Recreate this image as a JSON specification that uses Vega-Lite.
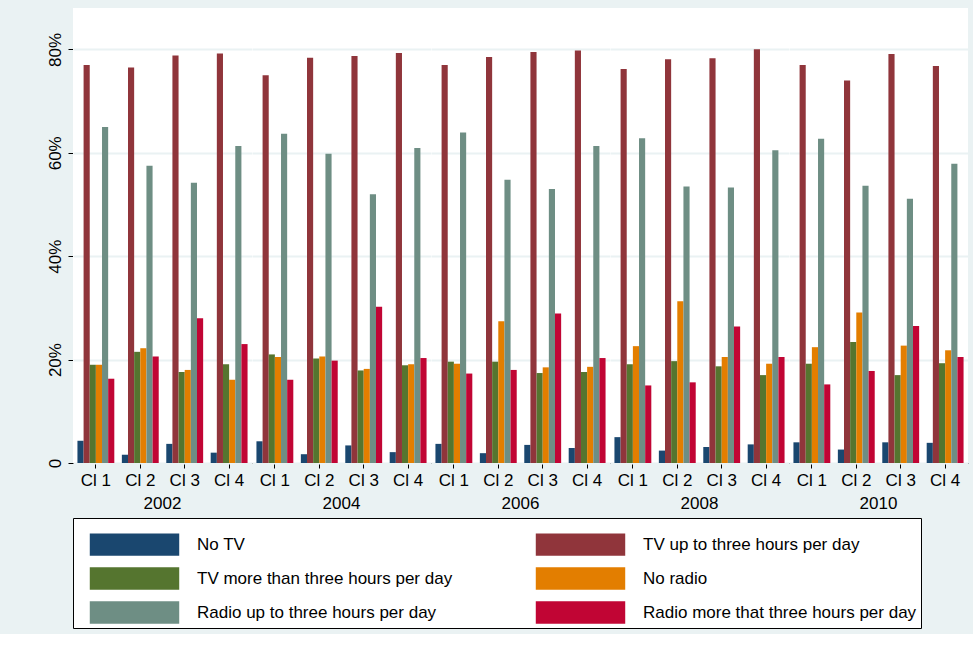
{
  "$schema": "https://vega.github.io/schema/vega-lite/v6.json",
  "background": "#eaf2f3",
  "padding": {"left": 45, "top": 8, "right": 5, "bottom": 5},
  "datasets": {
    "wide": [
      {"year": "2002", "cl": "Cl 1", "a": 4.3, "b": 77.0, "c": 19.0, "d": 19.0, "e": 65.0, "f": 16.3},
      {"year": "2002", "cl": "Cl 2", "a": 1.6, "b": 76.5, "c": 21.5, "d": 22.2, "e": 57.5, "f": 20.6},
      {"year": "2002", "cl": "Cl 3", "a": 3.7, "b": 78.8, "c": 17.6, "d": 18.0, "e": 54.2, "f": 28.0},
      {"year": "2002", "cl": "Cl 4", "a": 2.0, "b": 79.2, "c": 19.1, "d": 16.1, "e": 61.3, "f": 23.0},
      {"year": "2004", "cl": "Cl 1", "a": 4.2, "b": 75.0, "c": 21.0, "d": 20.5, "e": 63.7, "f": 16.1},
      {"year": "2004", "cl": "Cl 2", "a": 1.7, "b": 78.4, "c": 20.2, "d": 20.6, "e": 59.8, "f": 19.8},
      {"year": "2004", "cl": "Cl 3", "a": 3.4, "b": 78.7, "c": 17.9, "d": 18.2, "e": 52.0, "f": 30.2},
      {"year": "2004", "cl": "Cl 4", "a": 2.1, "b": 79.3, "c": 18.9, "d": 19.1, "e": 60.9, "f": 20.3},
      {"year": "2006", "cl": "Cl 1", "a": 3.7, "b": 77.0, "c": 19.6, "d": 19.2, "e": 63.9, "f": 17.3},
      {"year": "2006", "cl": "Cl 2", "a": 1.9, "b": 78.5, "c": 19.6, "d": 27.4, "e": 54.8, "f": 18.0},
      {"year": "2006", "cl": "Cl 3", "a": 3.5, "b": 79.5, "c": 17.4, "d": 18.5, "e": 53.0, "f": 28.9},
      {"year": "2006", "cl": "Cl 4", "a": 2.9, "b": 79.8, "c": 17.6, "d": 18.6, "e": 61.3, "f": 20.3},
      {"year": "2008", "cl": "Cl 1", "a": 5.0, "b": 76.2, "c": 19.1, "d": 22.6, "e": 62.8, "f": 15.0},
      {"year": "2008", "cl": "Cl 2", "a": 2.4, "b": 78.1, "c": 19.7, "d": 31.3, "e": 53.5, "f": 15.6},
      {"year": "2008", "cl": "Cl 3", "a": 3.1, "b": 78.3, "c": 18.7, "d": 20.5, "e": 53.3, "f": 26.4},
      {"year": "2008", "cl": "Cl 4", "a": 3.6, "b": 80.0, "c": 17.0, "d": 19.2, "e": 60.5, "f": 20.5},
      {"year": "2010", "cl": "Cl 1", "a": 4.0, "b": 77.0, "c": 19.2, "d": 22.4, "e": 62.7, "f": 15.2},
      {"year": "2010", "cl": "Cl 2", "a": 2.6, "b": 74.0, "c": 23.4, "d": 29.1, "e": 53.6, "f": 17.8},
      {"year": "2010", "cl": "Cl 3", "a": 4.0, "b": 79.1, "c": 17.0, "d": 22.7, "e": 51.1, "f": 26.5},
      {"year": "2010", "cl": "Cl 4", "a": 3.9, "b": 76.8, "c": 19.3, "d": 21.8, "e": 57.9, "f": 20.5}
    ]
  },
  "data": {"name": "wide"},
  "transform": [
    {"fold": ["a", "b", "c", "d", "e", "f"], "as": ["key", "value"]},
    {"lookup": "key", "from": {"data": {"values": [
      {"key": "a", "series": "No TV"},
      {"key": "b", "series": "TV up to three hours per day"},
      {"key": "c", "series": "TV more than three hours per day"},
      {"key": "d", "series": "No radio"},
      {"key": "e", "series": "Radio up to three hours per day"},
      {"key": "f", "series": "Radio more that three hours per day"}
    ]}, "key": "key", "fields": ["series"]}}
  ],
  "facet": {
    "column": {
      "field": "year", "type": "nominal", "title": null,
      "header": {"labelOrient": "bottom", "labelFontSize": 17, "labelFont": "Liberation Sans", "labelColor": "#000", "labelPadding": 8}
    }
  },
  "spacing": 0,
  "spec": {
    "width": 179,
    "height": 455,
    "mark": {"type": "bar"},
    "encoding": {
      "x": {
        "field": "cl", "type": "nominal", "title": null,
        "scale": {"paddingInner": 0.17, "paddingOuter": 0.1},
        "axis": {"labelAngle": 0, "labelFontSize": 17, "labelFont": "Liberation Sans", "labelColor": "#000", "ticks": true, "tickColor": "#000", "domainColor": "#000", "labelPadding": 4}
      },
      "xOffset": {"field": "key", "type": "nominal", "sort": ["a", "b", "c", "d", "e", "f"]},
      "y": {
        "field": "value", "type": "quantitative", "title": null,
        "scale": {"domain": [0, 88], "nice": false},
        "axis": {
          "values": [0, 20, 40, 60, 80],
          "labelExpr": "datum.value == 0 ? '0' : datum.value + '%'",
          "labelAngle": -90, "labelAlign": "center", "labelBaseline": "bottom",
          "labelFontSize": 17, "labelFont": "Liberation Sans", "labelColor": "#000",
          "grid": true, "gridColor": "#eaf2f3", "gridWidth": 2,
          "tickColor": "#000", "domainColor": "#000", "labelPadding": 4
        }
      },
      "color": {
        "field": "series", "type": "nominal", "title": null,
        "sort": ["No TV", "TV up to three hours per day", "TV more than three hours per day", "No radio", "Radio up to three hours per day", "Radio more that three hours per day"],
        "scale": {"range": ["#1a476f", "#90353b", "#55752f", "#e37e00", "#6e8e84", "#c10534"]},
        "legend": {
          "orient": "bottom", "direction": "horizontal", "columns": 2,
          "symbolType": "M-2,-0.5H2V0.5H-2Z", "symbolSize": 2000, "symbolStrokeWidth": 0, "symbolOpacity": 1, "symbolOffset": 35,
          "labelFontSize": 17, "labelFont": "Liberation Sans", "labelColor": "#000", "labelLimit": 400, "labelOffset": 40,
          "columnPadding": 70, "rowPadding": -10,
          "fillColor": "white", "strokeColor": "#000", "padding": 4, "offset": 6
        }
      }
    }
  },
  "config": {"view": {"fill": "white", "stroke": null}}
}
